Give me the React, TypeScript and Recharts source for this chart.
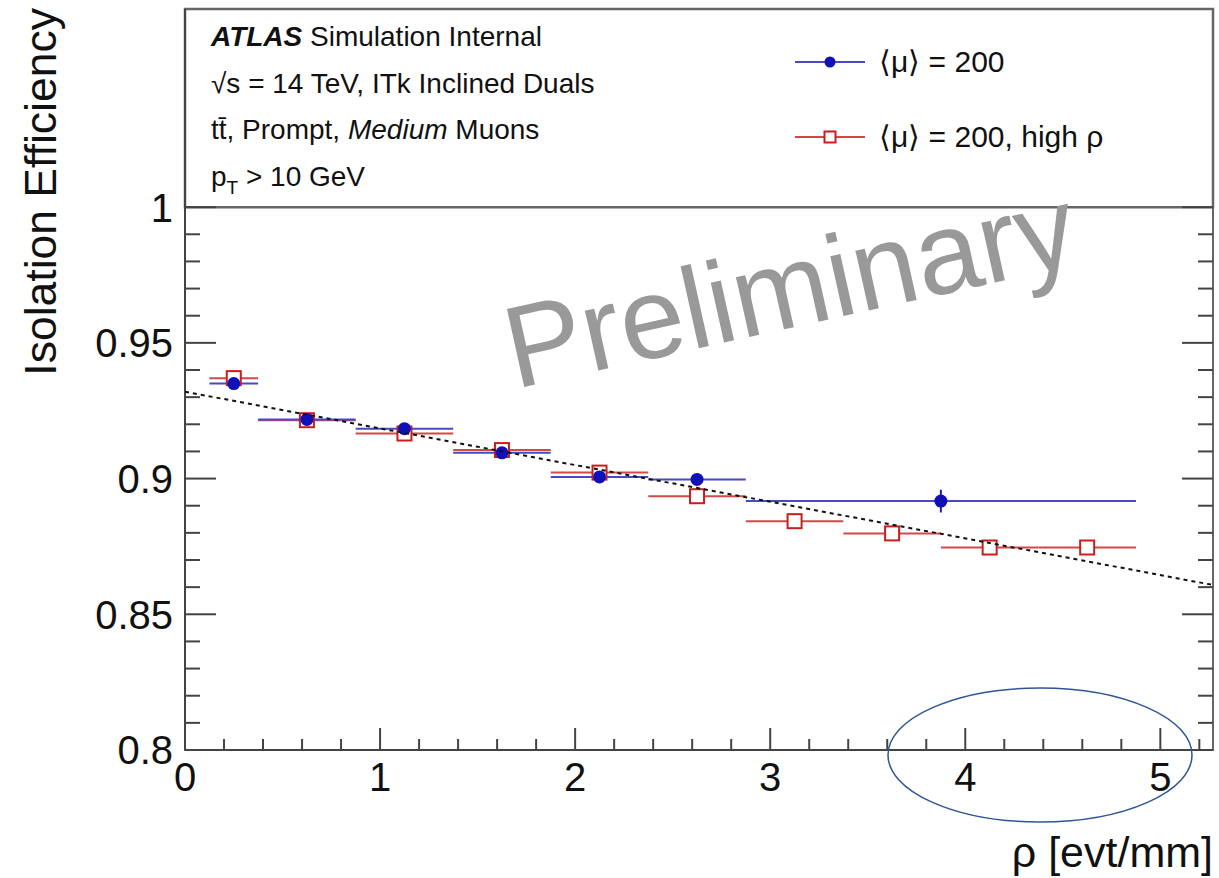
import React from 'react';
import { ScatterChart, Scatter, XAxis, YAxis, ErrorBar, ReferenceArea } from 'recharts';

// mu = 200 (blue)
const blueX = [0.25, 0.625, 1.125, 1.625, 2.125, 2.625, 3.875];
const blueXErr = [0.125, 0.25, 0.25, 0.25, 0.25, 0.25, 1.0];
const blueEff = [0.935, 0.9218, 0.9184, 0.9095, 0.9006, 0.8997, 0.8917];
const blueEffErr = [0.001, 0.0008, 0.0008, 0.0008, 0.001, 0.0012, 0.0042];

// mu = 200, high rho (red)
const redX = [0.25, 0.625, 1.125, 1.625, 2.125, 2.625, 3.125, 3.625, 4.125, 4.625];
const redXErr = [0.125, 0.25, 0.25, 0.25, 0.25, 0.25, 0.25, 0.25, 0.25, 0.25];
const redEff = [0.937, 0.9215, 0.9166, 0.9105, 0.9022, 0.8935, 0.8843, 0.8798, 0.8746, 0.8746];
const redEffErr = [0.003, 0.0008, 0.0008, 0.0008, 0.001, 0.001, 0.001, 0.001, 0.001, 0.001];

// linear fit, end points
const fitX = [0, 5.27];
const fitY = [0.932, 0.8608];

const xTicks = [0, 0.2, 0.4, 0.6, 0.8, 1, 1.2, 1.4, 1.6, 1.8, 2, 2.2, 2.4, 2.6, 2.8, 3, 3.2, 3.4, 3.6, 3.8, 4, 4.2, 4.4, 4.6, 4.8, 5, 5.2];
const xMajor = [0, 1, 2, 3, 4, 5];
const xLabels = ['0', '1', '2', '3', '4', '5'];
const yTicks = [0.8, 0.81, 0.82, 0.83, 0.84, 0.85, 0.86, 0.87, 0.88, 0.89, 0.9, 0.91, 0.92, 0.93, 0.94, 0.95, 0.96, 0.97, 0.98, 0.99, 1];
const yMajor = [0.8, 0.85, 0.9, 0.95, 1];
const yLabels = ['0.8', '0.85', '0.9', '0.95', '1'];

const XMAX = 5.27;
const YMAX = 1.073;
const PLOT_W = 1028;
const AXIS = '#444';

const blueData = blueX.map((x, i) => ({ x, y: blueEff[i], ex: blueXErr[i], ey: blueEffErr[i] }));
const redData = redX.map((x, i) => ({ x, y: redEff[i], ex: redXErr[i], ey: redEffErr[i] }));
const fitData = fitX.map((x, i) => ({ x, y: fitY[i] }));

const findLabel = (v: number, majors: number[], labels: string[]) => {
  const i = majors.findIndex((m) => Math.abs(m - v) < 1e-6);
  return i >= 0 ? labels[i] : null;
};

const XTick = (props: any) => {
  const { x, y, payload } = props;
  const label = findLabel(payload.value, xMajor, xLabels);
  const len = label !== null ? 22 : 11;
  return (
    <g>
      {payload.value > 0 && <line x1={x} x2={x} y1={y} y2={y - len} stroke={AXIS} strokeWidth={2} />}
      {label !== null && (
        <text x={x} y={y + 41} textAnchor="middle" fontSize={40} fill="#111">{label}</text>
      )}
    </g>
  );
};

const YTick = (props: any) => {
  const { x, y, payload } = props;
  const label = findLabel(payload.value, yMajor, yLabels);
  const len = label !== null ? 31 : 15;
  return (
    <g>
      <line x1={x} x2={x + len} y1={y} y2={y} stroke={AXIS} strokeWidth={2} />
      <line x1={x + PLOT_W - len} x2={x + PLOT_W} y1={y} y2={y} stroke={AXIS} strokeWidth={2} />
      {label !== null && (
        <text x={x - 12} y={y} dy="0.36em" textAnchor="end" fontSize={40} fill="#111">{label}</text>
      )}
    </g>
  );
};

const BlueDot = (props: any) => <circle cx={props.cx} cy={props.cy} r={6.5} fill="#1010b8" />;
const RedSquare = (props: any) => (
  <rect x={props.cx - 7} y={props.cy - 7} width={14} height={14} fill="#fff" stroke="#c81e1e" strokeWidth={2} />
);
const NoDot = () => <g />;

export default function App() {
  return (
    <div style={{ position: 'absolute', left: 0, top: 0, width: 1219, height: 878, background: '#fff', fontFamily: '"Liberation Sans", Arial, sans-serif' }}>
      <ScatterChart width={1219} height={878} margin={{ top: 9, right: 6, bottom: 0, left: 0 }}>
        <XAxis type="number" dataKey="x" domain={[0, XMAX]} ticks={xTicks} tick={<XTick />} tickSize={0} tickMargin={0} tickLine={false} height={128} axisLine={{ stroke: AXIS, strokeWidth: 2 }} allowDataOverflow interval={0} />
        <YAxis type="number" dataKey="y" domain={[0.8, YMAX]} ticks={yTicks} tick={<YTick />} tickSize={0} tickMargin={0} tickLine={false} width={185} axisLine={{ stroke: AXIS, strokeWidth: 2 }} allowDataOverflow interval={0} />
        <ReferenceArea x1={0} x2={XMAX} y1={0.8} y2={YMAX} fill="none" stroke="#666" strokeWidth={2} />
        <ReferenceArea x1={0} x2={XMAX} y1={1} y2={YMAX} fill="#fff" fillOpacity={1} stroke="#666" strokeWidth={2.5} />
        <Scatter data={redData} shape={<RedSquare />} isAnimationActive={false}>
          <ErrorBar dataKey="ex" direction="x" width={0} stroke="#d44848" strokeWidth={2} />
          <ErrorBar dataKey="ey" direction="y" width={0} stroke="#d44848" strokeWidth={2} />
        </Scatter>
        <Scatter data={blueData} shape={<BlueDot />} isAnimationActive={false}>
          <ErrorBar dataKey="ex" direction="x" width={0} stroke="#4848c8" strokeWidth={2} />
          <ErrorBar dataKey="ey" direction="y" width={0} stroke="#2020b8" strokeWidth={2} />
        </Scatter>
        <Scatter data={fitData} shape={<NoDot />} line={{ stroke: '#111', strokeWidth: 2, strokeDasharray: '4 4' }} isAnimationActive={false} />
      </ScatterChart>
      <svg width={1219} height={878} style={{ position: 'absolute', left: 0, top: 0, pointerEvents: 'none' }}>
        <text transform="translate(56,8) rotate(-90)" textAnchor="end" fontSize={44.5} fill="#111">Isolation Efficiency</text>
        <text x={1213} y={867} textAnchor="end" fontSize={43} fill="#111">ρ [evt/mm]</text>

        <g fontSize={28} fill="#111">
          <text x={211} y={46}>
            <tspan fontWeight="bold" fontStyle="italic">ATLAS</tspan> Simulation Internal
          </text>
          <text x={211} y={93}>√s = 14 TeV, ITk Inclined Duals</text>
          <text x={211} y={139}>
            tt̄, Prompt, <tspan fontStyle="italic">Medium</tspan> Muons
          </text>
          <text x={211} y={186}>
            p<tspan dy={8} fontSize={19}>T</tspan><tspan dy={-8}> &gt; 10 GeV</tspan>
          </text>
        </g>

        <line x1={795} x2={865} y1={62} y2={62} stroke="#4848c8" strokeWidth={2} />
        <circle cx={830} cy={62} r={5.5} fill="#1010b8" />
        <line x1={795} x2={865} y1={137} y2={137} stroke="#d44848" strokeWidth={2} />
        <rect x={824.5} y={131.5} width={11} height={11} fill="#fff" stroke="#c81e1e" strokeWidth={2} />
        <g fontSize={30} fill="#111">
          <text x={879} y={72}>⟨μ⟩ = 200</text>
          <text x={879} y={147}>⟨μ⟩ = 200, high ρ</text>
        </g>

        <text transform="translate(515,389) rotate(-12.5)" fontSize={116} fill="#999">Preliminary</text>

        <ellipse cx={1040} cy={755} rx={152} ry={67} fill="none" stroke="#2f5597" strokeWidth={1.5} />
      </svg>
    </div>
  );
}
